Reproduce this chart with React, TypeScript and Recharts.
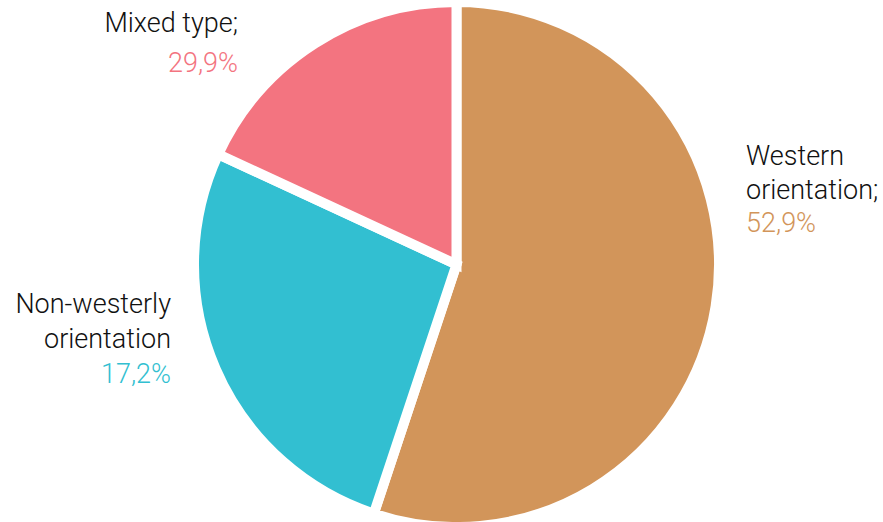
import { Cell, Pie, PieChart } from "recharts";

// slice sizes as drawn in the picture (clockwise from 12 o'clock)
const names = ["Western orientation", "Non-westerly orientation", "Mixed type"];
const values = [55.1, 26.8, 18.1];
// label texts exactly as printed on the chart
const labelLines = [["Western", "orientation;"], ["Non-westerly", "orientation"], ["Mixed type;"]];
const shareLabels = ["52,9%", "17,2%", "29,9%"];
const COLORS = ["#d2955a", "#32bfd1", "#f37480"];

// where each label block sits: anchor x, first baseline, line step
const LABEL_POS = [
  { x: 746, y: 165, step: 33.5, anchor: "start" },
  { x: 171, y: 313, step: 35, anchor: "end" },
  { x: 238, y: 32, step: 40, anchor: "end" },
];

const data = names.map((name, i) => ({ name, value: values[i] }));

function renderLabel(props: any) {
  const i = props.index;
  const p = LABEL_POS[i];
  const lines = labelLines[i];
  return (
    <text
      key={i}
      x={p.x}
      y={p.y}
      textAnchor={p.anchor}
      fontFamily="Roboto, sans-serif"
      fontWeight={300}
      fontSize={27}
    >
      {lines.map((l, j) => (
        <tspan key={j} x={p.x} y={p.y + j * p.step} fill="#111">
          {l}
        </tspan>
      ))}
      <tspan x={p.x} y={p.y + lines.length * p.step} fill={COLORS[i]}>
        {shareLabels[i]}
      </tspan>
    </text>
  );
}

export default function App() {
  return (
    <div style={{ position: "absolute", left: 0, top: 0, background: "#fff" }}>
      <PieChart width={883} height={522} margin={{ top: 0, right: 0, bottom: 0, left: 0 }}>
        <Pie
          data={data}
          dataKey="value"
          nameKey="name"
          cx={456.5}
          cy={264.5}
          outerRadius={262.5}
          startAngle={90}
          endAngle={-270}
          stroke="#ffffff"
          strokeWidth={10}
          label={renderLabel}
          labelLine={false}
          isAnimationActive={false}
        >
          {data.map((_, i) => (
            <Cell key={i} fill={COLORS[i]} />
          ))}
        </Pie>
      </PieChart>
    </div>
  );
}
